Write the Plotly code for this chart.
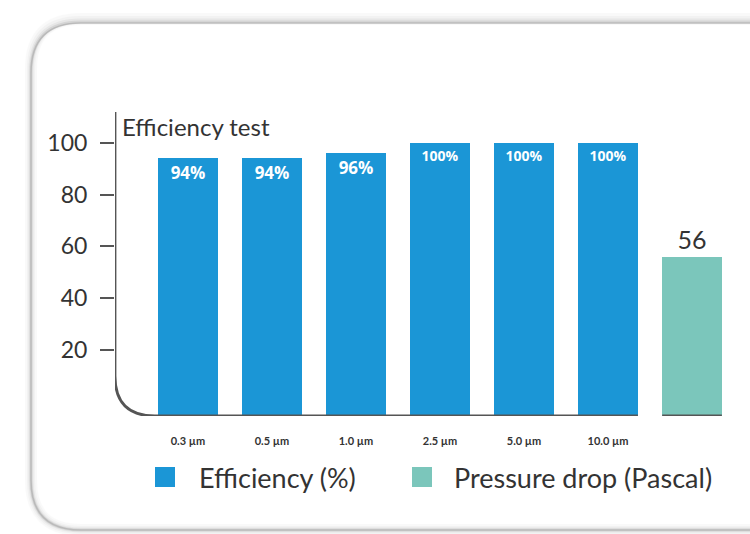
import plotly.graph_objects as go

# ---- data ----
sizes = ["0.3 µm", "0.5 µm", "1.0 µm", "2.5 µm", "5.0 µm", "10.0 µm"]
efficiency = [94, 94, 96, 100, 100, 100]
efficiency_labels = ["94%", "94%", "96%", "100%", "100%", "100%"]
pressure_drop = [56]
pressure_labels = ["56"]
y_ticks = [20, 40, 60, 80, 100]
series_names = ["Efficiency (%)", "Pressure drop (Pascal)"]

# ---- styling / layout constants ----
W, H = 750, 534
ML, MR, MT, MB = 115, 20, 112, 118
BLUE = "#1b96d6"
TEAL = "#7bc6bb"
DARK = "#333333"
AXIS = "#555555"
FONT = "Lato, 'Open Sans', sans-serif"

X_MIN, X_MAX = -0.869, 6.452
Y_MIN, Y_MAX = -5.5, 111.9
BAR_W = 0.71

plot_w = W - ML - MR
plot_h = H - MT - MB


def px_x(p):
    return (p - ML) / plot_w


def px_y(p):
    return (H - MB - p) / plot_h


x_eff = list(range(len(sizes)))
x_pd = [len(sizes) + i for i in range(len(pressure_drop))]
label_sizes = [17 if len(t) < 4 else 14 for t in efficiency_labels]

fig = go.Figure()
fig.add_trace(go.Bar(
    x=x_eff, y=[v - Y_MIN for v in efficiency], base=Y_MIN,
    width=BAR_W, marker=dict(color=BLUE, line=dict(width=0)),
    name=series_names[0], showlegend=False,
    text=efficiency_labels, textposition="inside", insidetextanchor="end",
    textangle=0,
    textfont=dict(color="white", size=label_sizes, family="'Open Sans', sans-serif", weight="bold"),
    hoverinfo="skip",
))
fig.add_trace(go.Bar(
    x=x_pd, y=[v - Y_MIN for v in pressure_drop], base=Y_MIN,
    width=BAR_W, marker=dict(color=TEAL, line=dict(width=0)),
    name=series_names[1], showlegend=False,
    text=pressure_labels, textposition="outside", textangle=0,
    textfont=dict(color=DARK, size=25, family=FONT),
    cliponaxis=False, hoverinfo="skip",
))

# axis with rounded corner
rx = 40 / (plot_w / (X_MAX - X_MIN))
ry = 40 / (plot_h / (Y_MAX - Y_MIN))
last = x_eff[-1] + BAR_W / 2
axis_path = (f"M {X_MIN},{Y_MAX} L {X_MIN},{Y_MIN + ry} "
             f"Q {X_MIN},{Y_MIN} {X_MIN + rx},{Y_MIN} L {last},{Y_MIN}")
shapes = [
    dict(type="path", xref="x", yref="y", path=axis_path,
         line=dict(color=AXIS, width=2.8), layer="above"),
]
for xp in x_pd:
    shapes.append(dict(type="line", xref="x", yref="y",
                       x0=xp - BAR_W / 2, x1=xp + BAR_W / 2, y0=Y_MIN, y1=Y_MIN,
                       line=dict(color=AXIS, width=2.8), layer="above"))


# card outline with soft shadow
def card_path(l, t, r, b, rad):
    x0, x1 = px_x(l), px_x(r)
    y0, y1 = px_y(t), px_y(b)
    rxp, ryp = rad / plot_w, rad / plot_h
    return (f"M {x1},{y0} L {x0 + rxp},{y0} Q {x0},{y0} {x0},{y0 - ryp} "
            f"L {x0},{y1 + ryp} Q {x0},{y1} {x0 + rxp},{y1} L {x1},{y1}")


for wdt, op, dy in [(12, 0.04, -4), (8, 0.06, -3), (5, 0.10, -2), (3, 0.18, -1), (1.5, 0.35, 0)]:
    shapes.append(dict(type="path", xref="paper", yref="paper",
                       path=card_path(31, 23 + dy, 760, 530, 50),
                       line=dict(color="#8a8a8a", width=wdt), opacity=op, layer="below"))

# custom legend (large square swatches)
legend_colors = [BLUE, TEAL]
swatch_left = [155, 412]
text_left = [197, 452]
LEG_Y = 477
SW = 20
annotations = [
    dict(text="Efficiency test", xref="paper", yref="paper",
         x=px_x(120), y=px_y(126), xanchor="left", yanchor="middle",
         showarrow=False, font=dict(size=24, color=DARK, family=FONT)),
]
for name, col, sl, tl in zip(series_names, legend_colors, swatch_left, text_left):
    shapes.append(dict(type="rect", xref="paper", yref="paper",
                       x0=px_x(sl), x1=px_x(sl + SW),
                       y0=px_y(LEG_Y + SW / 2), y1=px_y(LEG_Y - SW / 2),
                       fillcolor=col, line=dict(width=0)))
    annotations.append(dict(text=name, xref="paper", yref="paper",
                            x=px_x(tl), y=px_y(LEG_Y), xanchor="left", yanchor="middle",
                            showarrow=False, font=dict(size=27, color=DARK, family=FONT)))

fig.update_layout(
    width=W, height=H,
    margin=dict(l=ML, r=MR, t=MT, b=MB),
    paper_bgcolor="white", plot_bgcolor="white",
    bargap=0, showlegend=False, hovermode=False,
    font=dict(family=FONT, color=DARK),
    xaxis=dict(range=[X_MIN, X_MAX], tickvals=x_eff, ticktext=sizes,
               showgrid=False, zeroline=False, showline=False, ticks="",
               tickfont=dict(size=11, color=DARK, family=FONT, weight="bold"),
               ticklabelstandoff=17, fixedrange=True),
    yaxis=dict(range=[Y_MIN, Y_MAX], tickvals=y_ticks,
               showgrid=False, zeroline=False, showline=False,
               ticks="outside", ticklen=14, tickwidth=2, tickcolor=AXIS,
               tickfont=dict(size=23, color=DARK, family=FONT),
               ticklabelstandoff=8, fixedrange=True),
    shapes=shapes,
    annotations=annotations,
)

fig.write_html("out.html", config={"displayModeBar": False},
               post_script="document.body.style.margin='0px';")
